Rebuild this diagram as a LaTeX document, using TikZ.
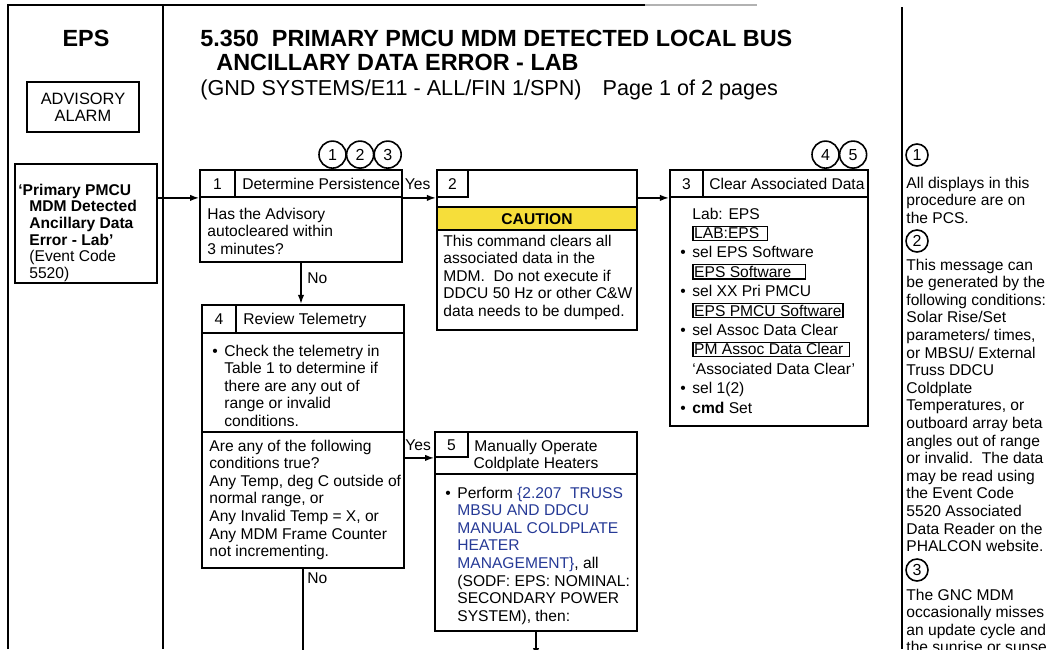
\documentclass[tikz,border=0pt]{standalone}
\usepackage{fontspec}
\setmainfont{Liberation Sans}
\usetikzlibrary{arrows.meta,positioning,fit}
\definecolor{cautionyellow}{RGB}{246,222,58}
\definecolor{procblue}{RGB}{38,58,150}
\newcommand\bfont{\fontsize{7.8}{8.8}\selectfont}
\newcommand\bul{\llap{\textbullet\hspace{3.3pt}}}
\newcommand\disp[2]{\fbox{\makebox[#1][l]{\rule[-0.2pt]{0pt}{5.8pt}#2}}}
\setlength\fboxsep{0.3pt}
\setlength\fboxrule{0.6pt}
\tikzset{
  frame/.style={line width=0.8pt},
  box/.style={draw, line width=1.1pt, inner sep=0pt},
  cell/.style={draw, line width=0.9pt, inner sep=0pt},
  hd/.style={inner sep=0pt, font=\bfont, text height=5.6pt, text depth=0pt},
  txt/.style={inner sep=0pt, align=left, font=\bfont},
  lbl/.style={inner sep=0pt, font=\bfont, text height=5.6pt, text depth=0pt},
  cnum/.style={circle, draw, line width=0.8pt, minimum size=13.5pt, inner sep=0pt,
               font=\fontsize{8}{8}\selectfont},
  ar/.style={-{Latex[length=4.5pt,width=3.2pt]}, line width=0.75pt},
  ln/.style={line width=0.75pt},
}

\begin{document}
\begin{tikzpicture}[x=0.5pt, y=-0.5pt]
\useasboundingbox (0,0) rectangle (1047,649);
\clip (0,0) rectangle (1047,649);
% page frame
\draw[frame] (8,649) -- (8,5) -- (645,5);
\draw[frame, black!30] (645,5) -- (757,5);
\draw[frame] (163,5) -- (163,649);
\draw[frame] (902,7) -- (902,649);
\coordinate (bot) at (0,657);

% left column
\node[anchor=base, inner sep=0pt, font=\fontsize{11.7}{12}\selectfont\bfseries] (eps) at (86,46) {EPS};
\node[box, fit={(27,82)(139,132)}] (adv) {};
\node[inner sep=0pt, align=center, font=\fontsize{8.2}{8.6}\selectfont] (advtxt) at (adv) {ADVISORY\\ALARM};
\node[box, fit={(15,164)(157,283)}] (trig) {};
\node[txt, anchor=north west, font=\fontsize{7.8}{8.35}\selectfont] (trigtxt) at (18,183.4)
  {\textbf{`Primary PMCU}\\\hspace*{5.5pt}\textbf{MDM Detected}\\\hspace*{5.5pt}\textbf{Ancillary Data}\\
   \hspace*{5.5pt}\textbf{Error - Lab'}\\\hspace*{5.5pt}(Event Code\\\hspace*{5.5pt}5520)};

% title
\node[anchor=north west, inner sep=0pt, align=left, font=\fontsize{11.7}{12}\selectfont\bfseries] (ttl) at (200,29.5)
  {5.350\ \ PRIMARY PMCU MDM DETECTED LOCAL BUS\\\hspace*{8pt}ANCILLARY DATA ERROR - LAB};
\node[anchor=base west, inner sep=0pt, font=\fontsize{10.8}{12}\selectfont] (sub) at (200,95)
  {(GND SYSTEMS/E11 - ALL/FIN 1/SPN)\hspace{10.5pt}Page 1 of 2 pages};

% block 1
\node[box, fit={(200,170)(402,262)}] (b1) {};
\node[cell, fit={(200,170)(402,197)}] (b1h) {};
\node[cell, fit={(200,170)(235,197)}] (b1n) {};
\node[hd] (b1num) at (b1n) {1};
\node[hd, right=3pt of b1n] (b1t) {Determine Persistence};
\node[txt, anchor=north west] (b1q) at (207,207.5) {Has the Advisory\\autocleared within\\3 minutes?};
\node[cnum, anchor=south] (c3) at ([xshift=-7.7pt]b1.north east) {3};
\node[cnum, left=-0.5pt of c3] (c2) {2};
\node[cnum, left=-0.5pt of c2] (c1) {1};

% block 2
\node[box, fit={(437,170)(637,330)}] (b2) {};
\node[cell, fit={(437,170)(468,197)}] (b2n) {};
\node[hd] (b2num) at (b2n) {2};
\node[box, line width=0.6pt, fill=cautionyellow, fit={(437,207)(637,230)}] (caut) {};
\node[hd, font=\bfont\bfseries] (cautt) at (caut) {CAUTION};
\node[txt, anchor=north west] (b2txt) at (443,234.4)
  {This command clears all\\associated data in the\\MDM.\ \ Do not execute if\\DDCU 50 Hz or other C\&W\\data needs to be dumped.};

% block 3
\node[box, fit={(670,170)(868,426)}] (b3) {};
\node[cell, fit={(670,170)(868,197)}] (b3h) {};
\node[cell, fit={(670,170)(703,197)}] (b3n) {};
\node[hd] (b3num) at (b3n) {3};
\node[hd, right=2.5pt of b3n] (b3t) {Clear Associated Data};
\node[cnum, anchor=south] (c5) at ([xshift=-8pt]b3.north east) {5};
\node[cnum, left=-0.5pt of c5] (c4) {4};
\node[txt, anchor=north west, font=\fontsize{7.8}{9.7}\selectfont] (b3txt) at (692,207.4)
  {Lab: EPS\\\disp{36.2pt}{LAB:EPS}\\\bul sel EPS Software\\\disp{55.2pt}{EPS Software}\\
   \bul sel XX Pri PMCU\\\disp{73.8pt}{EPS PMCU Software}\\\bul sel Assoc Data Clear\\
   \disp{77.2pt}{PM Assoc Data Clear}\\`Associated Data Clear'\\\bul sel 1(2)\\\bul\textbf{cmd} Set};

% block 4
\node[box, fit={(202,305)(404,568)}] (b4) {};
\node[cell, fit={(202,305)(404,432)}] (b4a) {};
\node[cell, fit={(202,305)(404,333)}] (b4h) {};
\node[cell, fit={(202,305)(236,333)}] (b4n) {};
\node[hd] (b4num) at (b4n) {4};
\node[hd, right=3pt of b4n] (b4t) {Review Telemetry};
\node[txt, anchor=north west] (b4chk) at (224,344.4)
  {\bul Check the telemetry in\\Table 1 to determine if\\there are any out of\\range or invalid\\conditions.};
\node[txt, anchor=north west] (b4q) at (209,439.4)
  {Are any of the following\\conditions true?\\Any Temp, deg C outside of\\normal range, or\\
   Any Invalid Temp = X, or\\Any MDM Frame Counter\\not incrementing.};

% block 5
\node[box, fit={(435,432)(637,631)}] (b5) {};
\node[cell, fit={(435,432)(637,474)}] (b5h) {};
\node[cell, fit={(435,432)(468,457)}] (b5n) {};
\node[hd] (b5num) at (b5n) {5};
\node[txt, align=center, anchor=north] (b5t) at (536,439.4) {Manually Operate\\Coldplate Heaters};
\node[txt, anchor=north west] (b5txt) at (457,486.4)
  {\bul Perform \textcolor{procblue}{\{2.207\ \ TRUSS}\\\textcolor{procblue}{MBSU AND DDCU}\\
   \textcolor{procblue}{MANUAL COLDPLATE}\\\textcolor{procblue}{HEATER}\\
   \textcolor{procblue}{MANAGEMENT\}}, all\\(SODF: EPS: NOMINAL:\\SECONDARY POWER\\SYSTEM), then:};

% connectors
\draw[ar] (trig.east |- b1h.south) -- (b1h.south west);
\draw[ar] (b1h.south east) -- (b1h.south east -| b2.west);
\draw[ar] (b2.east |- b1h.south) -- (b3.west |- b1h.south);
\draw[ar] (b1.south) -- (b1.south |- b4.north);
\draw[ar] (b4.east |- b5n.south) -- (b5n.south west);
\draw[ln] (b4.south) -- (b4.south |- bot);
\draw[ar] (b5.south) -- (b5.south |- bot);
\node[lbl, right=0.8pt of b1h.east] (yes1) {Yes};
\node[lbl, anchor=west] (yes2) at (405,445) {Yes};
\node[lbl, anchor=west] (no1) at (307,278) {No};
\node[lbl, anchor=west] (no2) at (307,578) {No};

% notes column
\node[cnum, minimum size=11pt] (n1) at (917,155) {1};
\node[txt, anchor=north west] (note1) at (906,176.4) {All displays in this\\procedure are on\\the PCS.};
\node[cnum, minimum size=11pt] (n2) at (917,241) {2};
\node[txt, anchor=north west] (note2) at (906,258.4)
  {This message can\\be generated by the\\following conditions:\\Solar Rise/Set\\parameters/ times,\\
   or MBSU/ External\\Truss DDCU\\Coldplate\\Temperatures, or\\outboard array beta\\
   angles out of range\\or invalid.\ \ The data\\may be read using\\the Event Code\\
   5520 Associated\\Data Reader on the\\PHALCON website.};
\node[cnum, minimum size=11pt] (n3) at (917,570) {3};
\node[txt, anchor=north west] (note3) at (906,588.4)
  {The GNC MDM\\occasionally misses\\an update cycle and\\the sunrise or sunset};
\end{tikzpicture}
\end{document}
